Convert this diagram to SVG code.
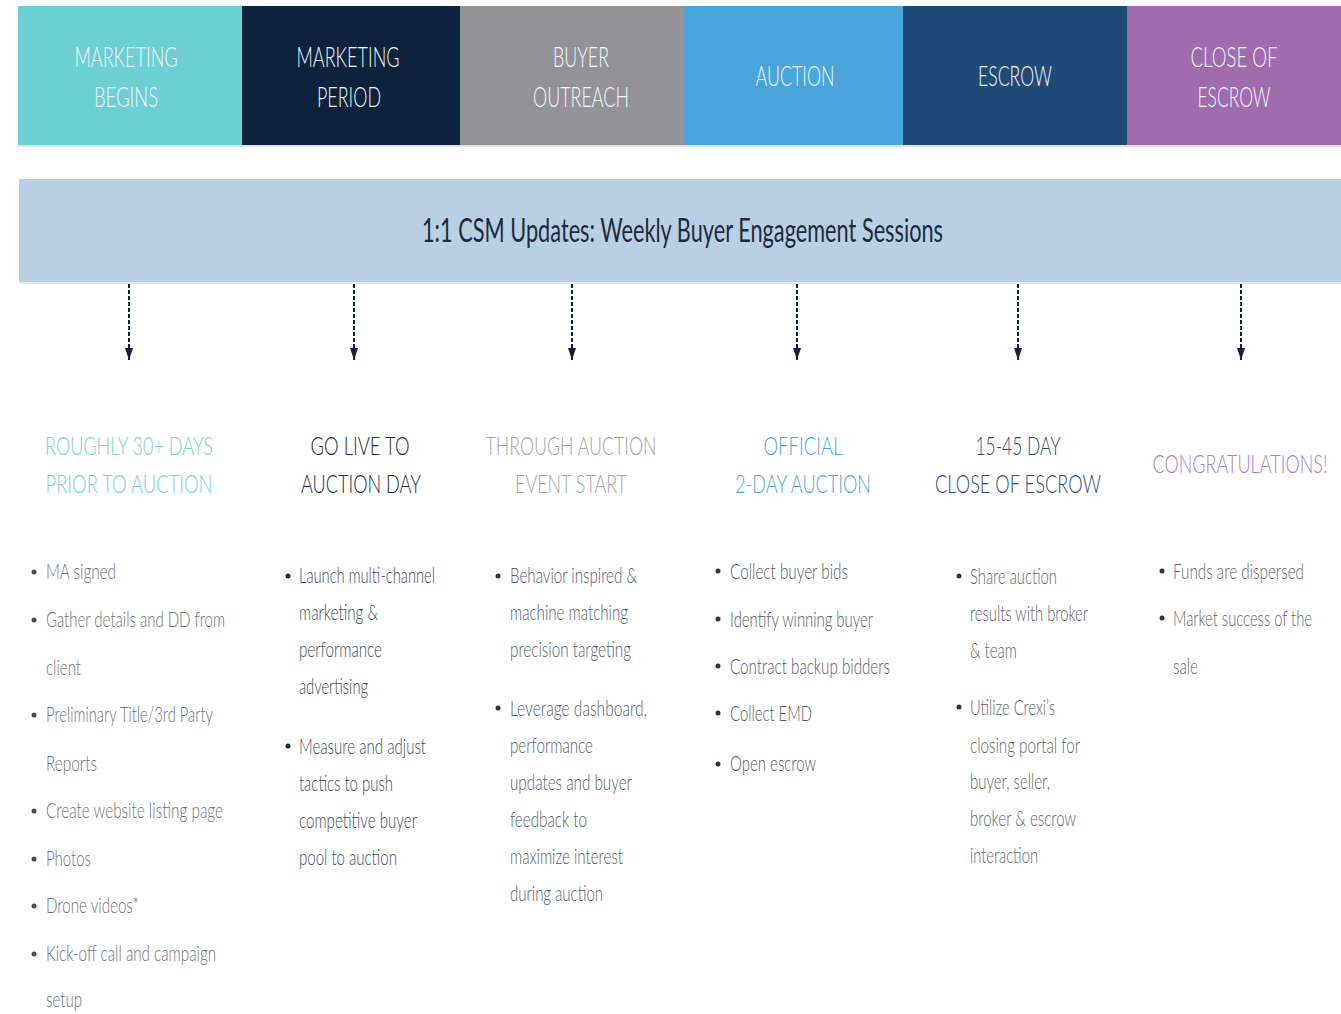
<svg xmlns="http://www.w3.org/2000/svg" width="1341" height="1014" viewBox="0 0 1341 1014">
<defs>
<marker id="ah" viewBox="0 0 12 10" refX="12" refY="5" markerWidth="12" markerHeight="10" markerUnits="userSpaceOnUse" orient="auto">
<path d="M0,1 L12,5 L0,9 Z" fill="#0d223d"/>
</marker>
<style>
.hd{font-family:Lato,"Open Sans","Liberation Sans",sans-serif;font-size:28px;fill:#f3f6f8;text-anchor:middle;font-weight:300}
.band{font-family:Lato,"Open Sans","Liberation Sans",sans-serif;font-size:32px;fill:#1c2a40;text-anchor:start;font-weight:400}
.ti{font-family:Lato,"Open Sans","Liberation Sans",sans-serif;font-size:25px;text-anchor:middle;font-weight:300}
.bt{font-family:Lato,"Open Sans","Liberation Sans",sans-serif;font-size:22px;text-anchor:start;font-weight:300}
.conn{stroke:#0d223d;stroke-width:2;stroke-dasharray:4 2;fill:none}
</style>
</defs>
<rect width="1341" height="1014" fill="#ffffff"/>

<g id="header-marketing-begins">
<rect x="18" y="6" width="224" height="139" fill="#6ccfd3"/>
<text class="hd" x="126" y="67" textLength="103" lengthAdjust="spacingAndGlyphs">MARKETING</text>
<text class="hd" x="126" y="107" textLength="64" lengthAdjust="spacingAndGlyphs">BEGINS</text>
</g>
<g id="header-marketing-period">
<rect x="242" y="6" width="218" height="139" fill="#0d223d"/>
<text class="hd" x="348" y="67" textLength="103" lengthAdjust="spacingAndGlyphs">MARKETING</text>
<text class="hd" x="349" y="107" textLength="64" lengthAdjust="spacingAndGlyphs">PERIOD</text>
</g>
<g id="header-buyer-outreach">
<rect x="460" y="6" width="224" height="139" fill="#949398"/>
<text class="hd" x="581" y="67" textLength="56" lengthAdjust="spacingAndGlyphs">BUYER</text>
<text class="hd" x="581" y="107" textLength="96" lengthAdjust="spacingAndGlyphs">OUTREACH</text>
</g>
<g id="header-auction">
<rect x="684" y="6" width="219" height="139" fill="#4ba5dc"/>
<text class="hd" x="795" y="86" textLength="79" lengthAdjust="spacingAndGlyphs">AUCTION</text>
</g>
<g id="header-escrow">
<rect x="903" y="6" width="224" height="139" fill="#214b77"/>
<text class="hd" x="1015" y="86" textLength="74" lengthAdjust="spacingAndGlyphs">ESCROW</text>
</g>
<g id="header-close-of-escrow">
<rect x="1127" y="6" width="214" height="139" fill="#a06cae"/>
<text class="hd" x="1234" y="67" textLength="87" lengthAdjust="spacingAndGlyphs">CLOSE OF</text>
<text class="hd" x="1234" y="107" textLength="73" lengthAdjust="spacingAndGlyphs">ESCROW</text>
</g>
<rect x="18" y="145" width="1323" height="2" fill="#dfe3e8"/>

<g id="csm-band">
<rect x="19" y="179" width="1322" height="103" fill="#b9d0e4"/>
<rect x="19" y="282" width="1322" height="2" fill="#dde7f0"/>
<text class="band" x="422" y="242" textLength="521" lengthAdjust="spacingAndGlyphs">1:1 CSM Updates: Weekly Buyer Engagement Sessions</text>
</g>

<g id="connectors">
<line class="conn" x1="129" y1="284" x2="129" y2="360" marker-end="url(#ah)"/>
<line class="conn" x1="354" y1="284" x2="354" y2="360" marker-end="url(#ah)"/>
<line class="conn" x1="572" y1="284" x2="572" y2="360" marker-end="url(#ah)"/>
<line class="conn" x1="797" y1="284" x2="797" y2="360" marker-end="url(#ah)"/>
<line class="conn" x1="1018" y1="284" x2="1018" y2="360" marker-end="url(#ah)"/>
<line class="conn" x1="1241" y1="284" x2="1241" y2="360" marker-end="url(#ah)"/>
</g>

<g id="step-1">
<text class="ti" fill="#76d0d4" x="129" y="455" textLength="168" lengthAdjust="spacingAndGlyphs">ROUGHLY 30+ DAYS</text>
<text class="ti" fill="#76d0d4" x="129" y="493" textLength="167" lengthAdjust="spacingAndGlyphs">PRIOR TO AUCTION</text>
<g fill="#4a4d52">
<circle cx="34" cy="572" r="2.5"/><circle cx="34" cy="620" r="2.5"/><circle cx="34" cy="715" r="2.5"/><circle cx="34" cy="811" r="2.5"/><circle cx="34" cy="859" r="2.5"/><circle cx="34" cy="906" r="2.5"/><circle cx="34" cy="954" r="2.5"/>
</g>
<g fill="#6e7075">
<text class="bt" x="46" y="579" textLength="70" lengthAdjust="spacingAndGlyphs">MA signed</text>
<text class="bt" x="46" y="627" textLength="179" lengthAdjust="spacingAndGlyphs">Gather details and DD from</text>
<text class="bt" x="46" y="675" textLength="35" lengthAdjust="spacingAndGlyphs">client</text>
<text class="bt" x="46" y="722" textLength="167" lengthAdjust="spacingAndGlyphs">Preliminary Title/3rd Party</text>
<text class="bt" x="46" y="771" textLength="51" lengthAdjust="spacingAndGlyphs">Reports</text>
<text class="bt" x="46" y="818" textLength="177" lengthAdjust="spacingAndGlyphs">Create website listing page</text>
<text class="bt" x="46" y="866" textLength="45" lengthAdjust="spacingAndGlyphs">Photos</text>
<text class="bt" x="46" y="913" textLength="93" lengthAdjust="spacingAndGlyphs">Drone videos*</text>
<text class="bt" x="46" y="961" textLength="170" lengthAdjust="spacingAndGlyphs">Kick-off call and campaign</text>
<text class="bt" x="46" y="1007" textLength="36" lengthAdjust="spacingAndGlyphs">setup</text>
</g>
</g>

<g id="step-2">
<text class="ti" fill="#1b2a43" x="360" y="455" textLength="99" lengthAdjust="spacingAndGlyphs">GO LIVE TO</text>
<text class="ti" fill="#1b2a43" x="361" y="493" textLength="120" lengthAdjust="spacingAndGlyphs">AUCTION DAY</text>
<g fill="#1b2a43">
<circle cx="288" cy="576" r="2.5"/><circle cx="288" cy="746" r="2.5"/>
</g>
<g fill="#3c4960">
<text class="bt" x="299" y="583" textLength="136" lengthAdjust="spacingAndGlyphs">Launch multi-channel</text>
<text class="bt" x="299" y="620" textLength="79" lengthAdjust="spacingAndGlyphs">marketing &amp;</text>
<text class="bt" x="299" y="657" textLength="83" lengthAdjust="spacingAndGlyphs">performance</text>
<text class="bt" x="299" y="694" textLength="69" lengthAdjust="spacingAndGlyphs">advertising</text>
<text class="bt" x="299" y="754" textLength="127" lengthAdjust="spacingAndGlyphs">Measure and adjust</text>
<text class="bt" x="299" y="791" textLength="94" lengthAdjust="spacingAndGlyphs">tactics to push</text>
<text class="bt" x="299" y="828" textLength="118" lengthAdjust="spacingAndGlyphs">competitive buyer</text>
<text class="bt" x="299" y="865" textLength="98" lengthAdjust="spacingAndGlyphs">pool to auction</text>
</g>
</g>

<g id="step-3">
<text class="ti" fill="#a3a3a6" x="571" y="455" textLength="171" lengthAdjust="spacingAndGlyphs">THROUGH AUCTION</text>
<text class="ti" fill="#a3a3a6" x="571" y="493" textLength="112" lengthAdjust="spacingAndGlyphs">EVENT START</text>
<g fill="#2b3445">
<circle cx="498" cy="576" r="2.5"/><circle cx="498" cy="708" r="2.5"/>
</g>
<g fill="#545d6c">
<text class="bt" x="510" y="583" textLength="127" lengthAdjust="spacingAndGlyphs">Behavior inspired &amp;</text>
<text class="bt" x="510" y="620" textLength="118" lengthAdjust="spacingAndGlyphs">machine matching</text>
<text class="bt" x="510" y="657" textLength="121" lengthAdjust="spacingAndGlyphs">precision targeting</text>
<text class="bt" x="510" y="716" textLength="137" lengthAdjust="spacingAndGlyphs">Leverage dashboard,</text>
<text class="bt" x="510" y="753" textLength="83" lengthAdjust="spacingAndGlyphs">performance</text>
<text class="bt" x="510" y="790" textLength="122" lengthAdjust="spacingAndGlyphs">updates and buyer</text>
<text class="bt" x="510" y="827" textLength="77" lengthAdjust="spacingAndGlyphs">feedback to</text>
<text class="bt" x="510" y="864" textLength="113" lengthAdjust="spacingAndGlyphs">maximize interest</text>
<text class="bt" x="510" y="901" textLength="93" lengthAdjust="spacingAndGlyphs">during auction</text>
</g>
</g>

<g id="step-4">
<text class="ti" fill="#4ea6dc" x="803" y="455" textLength="79" lengthAdjust="spacingAndGlyphs">OFFICIAL</text>
<text class="ti" fill="#4ea6dc" x="803" y="493" textLength="136" lengthAdjust="spacingAndGlyphs">2-DAY AUCTION</text>
<g fill="#2b3445">
<circle cx="718" cy="571" r="2.5"/><circle cx="718" cy="619" r="2.5"/><circle cx="718" cy="666" r="2.5"/><circle cx="718" cy="713" r="2.5"/><circle cx="718" cy="764" r="2.5"/>
</g>
<g fill="#525a67">
<text class="bt" x="730" y="579" textLength="118" lengthAdjust="spacingAndGlyphs">Collect buyer bids</text>
<text class="bt" x="730" y="627" textLength="143" lengthAdjust="spacingAndGlyphs">Identify winning buyer</text>
<text class="bt" x="730" y="674" textLength="160" lengthAdjust="spacingAndGlyphs">Contract backup bidders</text>
<text class="bt" x="730" y="721" textLength="82" lengthAdjust="spacingAndGlyphs">Collect EMD</text>
<text class="bt" x="730" y="771" textLength="86" lengthAdjust="spacingAndGlyphs">Open escrow</text>
</g>
</g>

<g id="step-5">
<text class="ti" fill="#2d4c72" x="1018" y="455" textLength="85" lengthAdjust="spacingAndGlyphs">15-45 DAY</text>
<text class="ti" fill="#2d4c72" x="1018" y="493" textLength="166" lengthAdjust="spacingAndGlyphs">CLOSE OF ESCROW</text>
<g fill="#2b3445">
<circle cx="959" cy="576" r="2.5"/><circle cx="959" cy="707" r="2.5"/>
</g>
<g fill="#62656b">
<text class="bt" x="970" y="584" textLength="87" lengthAdjust="spacingAndGlyphs">Share auction</text>
<text class="bt" x="970" y="621" textLength="118" lengthAdjust="spacingAndGlyphs">results with broker</text>
<text class="bt" x="970" y="658" textLength="47" lengthAdjust="spacingAndGlyphs">&amp; team</text>
<text class="bt" x="970" y="715" textLength="85" lengthAdjust="spacingAndGlyphs">Utilize Crexi’s</text>
<text class="bt" x="970" y="753" textLength="110" lengthAdjust="spacingAndGlyphs">closing portal for</text>
<text class="bt" x="970" y="789" textLength="80" lengthAdjust="spacingAndGlyphs">buyer, seller,</text>
<text class="bt" x="970" y="826" textLength="106" lengthAdjust="spacingAndGlyphs">broker &amp; escrow</text>
<text class="bt" x="970" y="863" textLength="68" lengthAdjust="spacingAndGlyphs">interaction</text>
</g>
</g>

<g id="step-6">
<text class="ti" fill="#b07cc2" x="1240" y="473" textLength="175" lengthAdjust="spacingAndGlyphs">CONGRATULATIONS!</text>
<g fill="#2b3445">
<circle cx="1162" cy="571" r="2.5"/><circle cx="1162" cy="618" r="2.5"/>
</g>
<g fill="#62656b">
<text class="bt" x="1173" y="579" textLength="131" lengthAdjust="spacingAndGlyphs">Funds are dispersed</text>
<text class="bt" x="1173" y="626" textLength="139" lengthAdjust="spacingAndGlyphs">Market success of the</text>
<text class="bt" x="1173" y="674" textLength="25" lengthAdjust="spacingAndGlyphs">sale</text>
</g>
</g>
</svg>
